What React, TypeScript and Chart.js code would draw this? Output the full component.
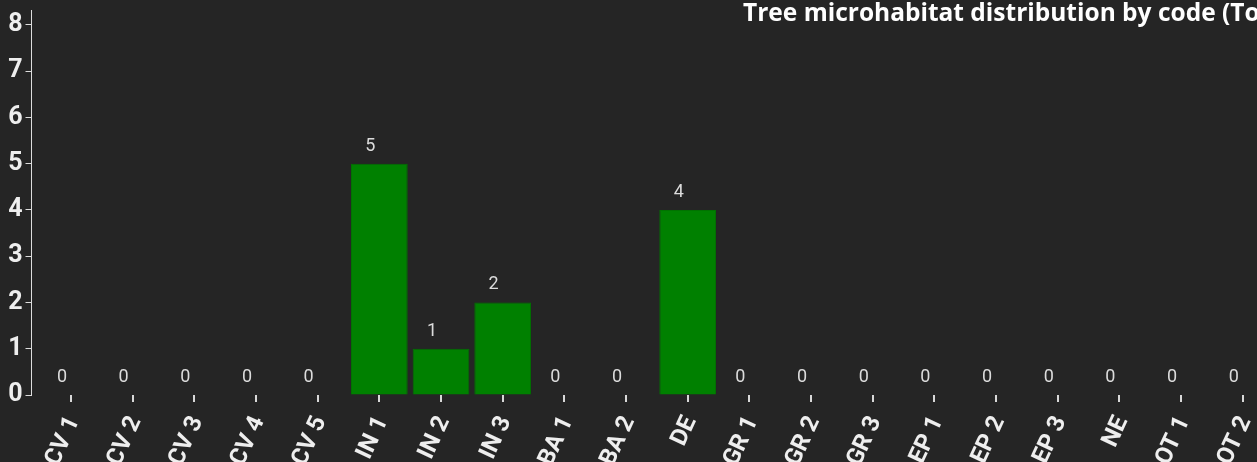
import React, { useEffect, useRef } from "react";
import { Chart, registerables } from "chart.js";

Chart.register(...registerables);

const categories = [
  "CV 1", "CV 2", "CV 3", "CV 4", "CV 5",
  "IN 1", "IN 2", "IN 3", "BA 1", "BA 2",
  "DE", "GR 1", "GR 2", "GR 3", "EP 1",
  "EP 2", "EP 3", "NE", "OT 1", "OT 2",
];
const counts = [0, 0, 0, 0, 0, 5, 1, 2, 0, 0, 4, 0, 0, 0, 0, 0, 0, 0, 0, 0];
const yTickValues = [0, 1, 2, 3, 4, 5, 6, 7, 8];
const titleText = "Tree microhabitat distribution by code (Total: 12)";

const BG = "#252525";

const valueLabels = {
  id: "valueLabels",
  afterDatasetsDraw(chart: any) {
    const ctx = chart.ctx;
    const meta = chart.getDatasetMeta(0);
    ctx.save();
    ctx.font = "18px Roboto";
    ctx.fillStyle = "#dcdcdc";
    ctx.textAlign = "center";
    ctx.textBaseline = "middle";
    meta.data.forEach((bar: any, i: number) => {
      ctx.fillText(String(counts[i]), bar.x - 9, bar.y - 17.5);
    });
    ctx.restore();
  },
};

const titlePlugin = {
  id: "leftTitle",
  afterDraw(chart: any) {
    const ctx = chart.ctx;
    ctx.save();
    ctx.font = 'bold 24.5px "Open Sans"';
    ctx.fillStyle = "#ffffff";
    ctx.textAlign = "left";
    ctx.textBaseline = "alphabetic";
    ctx.fillText(titleText, 743, 21);
    ctx.restore();
  },
};

export default function App() {
  const ref = useRef<HTMLCanvasElement | null>(null);

  useEffect(() => {
    if (!ref.current) return;
    const chart = new Chart(ref.current, {
      type: "bar",
      data: {
        datasets: [
          {
            label: "Count",
            data: counts.map((v, i) => ({ x: i, y: v })),
            backgroundColor: "#008000",
            borderColor: "#007300",
            borderWidth: 1,
            borderSkipped: "bottom",
            barPercentage: 0.92,
            categoryPercentage: 1,
          },
        ],
      },
      options: {
        responsive: false,
        animation: false,
        devicePixelRatio: 1,
        layout: { padding: { top: 10, left: 0, right: 0, bottom: 0 } },
        plugins: {
          legend: { display: false },
          title: { display: false },
          tooltip: { enabled: false },
        },
        scales: {
          x: {
            type: "linear",
            min: -0.6405,
            max: 19.929,
            offset: false,
            grid: {
              display: true,
              offset: false,
              drawOnChartArea: false,
              drawTicks: true,
              tickLength: 7,
              color: "#d8d8d8",
              lineWidth: 2,
            },
            border: { display: false },
            ticks: {
              autoSkip: false,
              minRotation: 65,
              maxRotation: 65,
              padding: 10,
              labelOffset: 3,
              color: "#eeeeee",
              font: { family: "Roboto", weight: "bold", size: 24 },
              callback: (value: any) => categories[value] ?? "",
            },
            afterBuildTicks: (s: any) => {
              s.ticks = categories.map((_, i) => ({ value: i }));
            },
            afterFit: (s: any) => {
              s.height = 85;
              s.paddingLeft = 0;
              s.paddingRight = 0;
            },
          },
          y: {
            min: 0,
            max: 8.32,
            grid: {
              display: true,
              drawOnChartArea: false,
              drawTicks: true,
              tickLength: 6,
              color: "#dddddd",
              lineWidth: 1,
            },
            border: { display: true, color: "#dddddd", width: 1 },
            ticks: {
              stepSize: 1,
              includeBounds: false,
              padding: 3,
              color: "#eeeeee",
              font: { family: "Roboto", weight: "bold", size: 25 },
            },
            afterBuildTicks: (s: any) => {
              s.ticks = yTickValues.map((v) => ({ value: v }));
            },
            afterFit: (s: any) => {
              s.width = 31.5;
              s.paddingTop = 0;
              s.paddingBottom = 0;
            },
          },
        },
      },
      plugins: [valueLabels, titlePlugin],
    });
    return () => chart.destroy();
  }, []);

  return (
    <div
      style={{
        position: "fixed",
        left: 0,
        top: 0,
        width: 1257,
        height: 462,
        overflow: "hidden",
        background: BG,
      }}
    >
      <canvas
        ref={ref}
        width={1300}
        height={480}
        style={{ width: "1300px", height: "480px", display: "block" }}
      />
    </div>
  );
}
